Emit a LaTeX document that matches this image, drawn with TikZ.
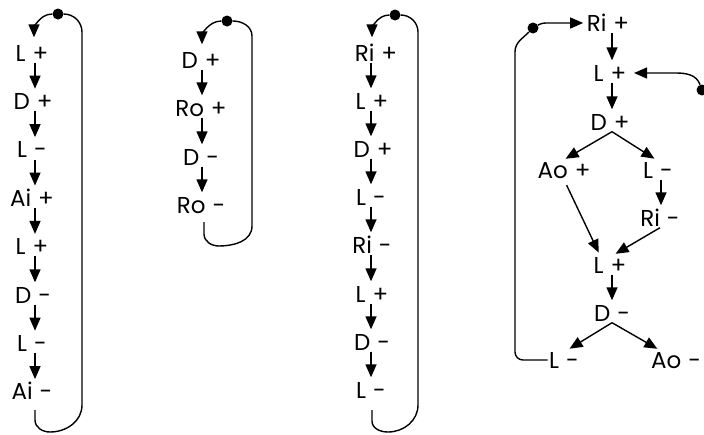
\documentclass[tikz,border=0pt]{standalone}
\usepackage{fontspec}
\setmainfont{Poppins}
\usetikzlibrary{arrows.meta,calc}
\newcommand\term[2]{#1\hspace{7pt}#2}
\begin{document}
\begin{tikzpicture}[x=1pt,y=1pt,
  lbl/.style={inner sep=1.5pt, text height=16pt, text depth=0pt,
              font=\fontsize{23}{23}\selectfont},
  flow/.style={-{Triangle[width=11pt,length=13pt]}, line width=1.4pt,
               shorten >=3pt},
  wire/.style={line width=1.4pt},
  knot/.style={circle, fill=black, inner sep=0pt, minimum size=11pt},
]
\clip (0,0) rectangle (704,-434);
\useasboundingbox (0,0) rectangle (704,-434);

% ---------- first sequence ----------
\node[lbl] (a1) at (32,-53)    {\term{L}{+}};
\node[lbl] (a2) at (33,-101.4) {\term{D}{+}};
\node[lbl] (a3) at (32,-149.8) {\term{L}{-}};
\node[lbl] (a4) at (32,-198.2) {\term{Ai}{+}};
\node[lbl] (a5) at (32,-246.6) {\term{L}{+}};
\node[lbl] (a6) at (33,-295)   {\term{D}{-}};
\node[lbl] (a7) at (32,-343.4) {\term{L}{-}};
\node[lbl] (a8) at (32,-391.8) {\term{Ai}{-}};
\foreach \i/\j in {1/2,2/3,3/4,4/5,5/6,6/7,7/8}
  \draw[flow] (a\i.south -| 35,0) -- (a\j.north -| 35,0);
\node[knot] (k1) at (58,-14) {};
\coordinate (h1) at (35,-410);
\draw[flow, shorten >=6pt] (k1) to[out=180,in=90] (a1.north -| 34,0);
\draw[wire] (h1) -- (35,-420) to[out=-90,in=180] (50,-432)
  to[out=0,in=-90] (82,-405) -- (82,-32) to[out=90,in=0] (k1);

% ---------- second sequence ----------
\node[lbl] (b1) at (201,-60)  {\term{D}{+}};
\node[lbl] (b2) at (201,-108) {\term{Ro}{+}};
\node[lbl] (b3) at (201,-157) {\term{D}{-}};
\node[lbl] (b4) at (201,-205) {\term{Ro}{-}};
\foreach \i/\j in {1/2,2/3,3/4}
  \draw[flow] (b\i.south -| 202,0) -- (b\j.north -| 202,0);
\node[knot] (k2) at (227,-21) {};
\coordinate (h2) at (204,-222);
\draw[flow, shorten >=6pt] (k2) to[out=180,in=90] (b1.north -| 202,0);
\draw[wire] (h2) -- (204,-234) to[out=-90,in=180] (219,-246)
  to[out=0,in=-90] (252,-226) -- (252,-36) to[out=90,in=0] (k2);

% ---------- third sequence ----------
\node[lbl] (c1) at (376,-53)  {\term{Ri}{+}};
\node[lbl] (c2) at (372,-101) {\term{L}{+}};
\node[lbl] (c3) at (373,-149) {\term{D}{+}};
\node[lbl] (c4) at (371,-197) {\term{L}{-}};
\node[lbl] (c5) at (372,-245) {\term{Ri}{-}};
\node[lbl] (c6) at (372,-294) {\term{L}{+}};
\node[lbl] (c7) at (372,-342) {\term{D}{-}};
\node[lbl] (c8) at (371,-390) {\term{L}{-}};
\foreach \i/\j in {1/2,2/3,3/4,4/5,5/6,6/7,7/8}
  \draw[flow] (c\i.south -| 371,0) -- (c\j.north -| 371,0);
\node[knot] (k3) at (395,-15) {};
\coordinate (h3) at (372,-410);
\draw[flow, shorten >=6pt] (k3) to[out=180,in=90] (c1.north -| 372,0);
\draw[wire] (h3) -- (372,-421) to[out=-90,in=180] (388,-432)
  to[out=0,in=-90] (418,-405) -- (418,-32) to[out=90,in=0] (k3);

% ---------- branching cycle ----------
\node[lbl] (r1)  at (608,-23)  {\term{Ri}{+}};
\node[lbl] (r2)  at (610,-73)  {\term{L}{+}};
\node[lbl] (r3)  at (610,-122) {\term{D}{+}};
\node[lbl] (r4)  at (564,-170) {\term{Ao}{+}};
\node[lbl] (r5)  at (658,-170) {\term{L}{-}};
\node[lbl] (r6)  at (660,-218) {\term{Ri}{-}};
\node[lbl] (r7)  at (610,-265) {\term{L}{+}};
\node[lbl] (r8)  at (612,-313) {\term{D}{-}};
\node[lbl] (r9)  at (564,-360) {\term{L}{-}};
\node[lbl] (r10) at (676,-360) {\term{Ao}{-}};
\node[knot] (k4) at (533,-28) {};
\node[knot] (k5) at (702,-90) {};

\draw[flow] (r1.south -| 612,0) -- (r2.north -| 612,0);
\draw[flow] (r2.south -| 612,0) -- (r3.north -| 612,0);
\draw[flow] (r3.south -| 612,0) -- ([xshift=-1pt]r4.north);
\draw[flow] (r3.south -| 612,0) -- ([xshift=-1pt]r5.north);
\draw[flow] (r5.south -| 661,0) -- (r6.north -| 661,0);
\draw[flow] (r6.south) -- ([xshift=3pt]r7.north);
\draw[flow, shorten <=6pt] (r4.south) -- ([xshift=-10pt]r7.north);
\draw[flow] (r7.south -| 612,0) -- (r8.north -| 612,0);
\draw[flow] (r8.south) -- ([xshift=3pt]r9.north);
\draw[flow] (r8.south) -- ([xshift=-16pt]r10.north);

\draw[wire] (r9.west) -- (523,-360) to[out=180,in=-90] (515,-352)
  -- (515,-52) to[out=90,in=225] (k4);
\draw[flow, shorten >=2pt] (k4) to[out=30,in=180] (548,-23) -- (r1.west);
\draw[flow, shorten >=6pt] (k5) to[out=110,in=0] (676,-73) -- (r2.east);
\end{tikzpicture}
\end{document}
